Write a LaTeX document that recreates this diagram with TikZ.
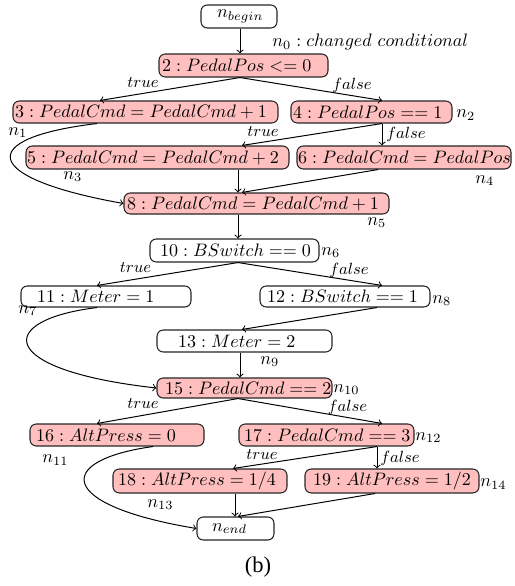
\documentclass[tikz,border=0pt]{standalone}
\usepackage{fontspec}
\newfontfamily\capfont{Liberation Serif}
\usetikzlibrary{calc}
\newdimen\upx \upx=0.555pt
\definecolor{pk}{RGB}{255,191,191}
\tikzset{
  box/.style={draw=black!85, rounded corners=3.5pt, inner xsep=0pt, inner ysep=0pt, line width=0.6pt},
  hot/.style={box, fill=pk},
  cold/.style={box, fill=white},
  edg/.style={->, line width=0.55pt},
  elab/.style={inner sep=0pt, font=\small},
  nlab/.style={inner sep=0pt, anchor=base west},
}
\newcommand{\bt}[3]{\makebox[#1\upx][l]{\hspace*{#2\upx}$#3$}}
\begin{document}
\begin{tikzpicture}[x=0.555pt, y=-0.555pt]
\path[use as bounding box] (0,0) rectangle (514,586);

% nodes
\node[cold, minimum height=12.77pt] (nb) at (239,16.5) {\bt{76}{16}{n_{begin}}};
\node[hot, minimum height=12.77pt] (n2) at (243.5,65.5) {\bt{169}{3}{2: PedalPos <= 0}};
\node[hot, minimum height=12.2pt] (n3) at (145.5,112) {\bt{265}{2}{3: PedalCmd = PedalCmd + 1}};
\node[hot, minimum height=12.2pt] (n4) at (371.5,112) {\bt{161}{2}{4: PedalPos == 1}};
\node[hot, minimum height=12.77pt] (n5) at (157.5,157.5) {\bt{263}{1}{5: PedalCmd = PedalCmd + 2}};
\node[hot, minimum height=12.77pt] (n6) at (404,157.5) {\bt{214}{1}{6: PedalCmd = PedalPos}};
\node[hot, minimum height=11.66pt] (n8) at (256.5,203.5) {\bt{265}{3}{8: PedalCmd = PedalCmd + 1}};
\node[cold, minimum height=12.77pt] (n10) at (234.5,250.5) {\bt{169}{10}{10: BSwitch == 0}};
\node[cold, minimum height=11.66pt] (n11) at (106,296.5) {\bt{170}{16}{11: Meter = 1}};
\node[cold, minimum height=11.66pt] (n12) at (345,296.5) {\bt{170}{7}{12: BSwitch == 1}};
\node[cold, minimum height=12.2pt] (n13) at (244.5,341) {\bt{175}{21}{13: Meter = 2}};
\node[hot, minimum height=11.1pt] (n15) at (244.5,388) {\bt{175}{8}{15: PedalCmd == 2}};
\node[hot, minimum height=12.2pt] (n16) at (117,435) {\bt{174}{6}{16: AltPress = 0}};
\node[hot, minimum height=12.2pt] (n17) at (326.5,435) {\bt{175}{5}{17: PedalCmd == 3}};
\node[hot, minimum height=13.3pt] (n18) at (200,481) {\bt{174}{5}{18: AltPress = 1/4}};
\node[hot, minimum height=13.3pt] (n19) at (392,481) {\bt{174}{8}{19: AltPress = 1/2}};
\node[cold, minimum height=12.77pt] (ne) at (235.5,528.5) {\bt{77}{15}{n_{end}}};

% edges
\draw[edg] ($(nb.south)+(1,0)$) -- ($(n2.north)+(-3.5,0)$);
\draw[edg] ($(n2.south)+(-3.5,0)$) -- ($(n3.north)+(-45.5,0)$);
\draw[edg] ($(n2.south)+(-3.5,0)$) -- ($(n4.north)+(10.5,0)$);
\draw[edg] ($(n4.south)+(10.5,0)$) -- ($(n5.north)+(84.5,0)$);
\draw[edg] ($(n4.south)+(10.5,0)$) -- ($(n6.north)+(-22,0)$);
\draw[edg] ($(n3.south)+(-48.5,0)$) .. controls (-25,138) and (-20,178) .. (n8.west);
\draw[edg] ($(n5.south)+(80.5,0)$) -- ($(n8.north)+(-18.5,0)$);
\draw[edg] ($(n6.south)+(-26,0)$) -- ($(n8.north)+(-14.5,0)$);
\draw[edg] ($(n8.south)+(-18.5,0)$) -- ($(n10.north)+(3.5,0)$);
\draw[edg] ($(n10.south)+(3.5,0)$) -- ($(n11.north)+(-9,0)$);
\draw[edg] ($(n10.south)+(3.5,0)$) -- ($(n12.north)+(37,0)$);
\draw[edg] ($(n11.south)+(-9,0)$) .. controls (-5,320) and (-5,370) .. (n15.west);
\draw[edg] ($(n12.south)+(32,0)$) -- ($(n13.north)+(-2.5,0)$);
\draw[edg] ($(n13.south)+(-4.5,0)$) -- ($(n15.north)+(-4.5,0)$);
\draw[edg] ($(n15.south)+(-6.5,0)$) -- ($(n16.north)+(-20,0)$);
\draw[edg] ($(n15.south)+(-6.5,0)$) -- ($(n17.north)+(55.5,0)$);
\draw[edg] ($(n16.south)+(36,0)$) .. controls (55,460) and (55,505) .. (ne.west);
\draw[edg] ($(n17.south)+(50.5,0)$) -- ($(n18.north)+(33,0)$);
\draw[edg] ($(n17.south)+(50.5,0)$) -- ($(n19.north)+(-15,0)$);
\draw[edg] ($(n18.south)+(35,0)$) -- ($(ne.north)+(-0.5,0)$);
\draw[edg] ($(n19.south)+(-17,0)$) -- ($(ne.north)+(2.5,0)$);

% edge labels
\node[elab] (t1) at (143,82.5) {$true$};
\node[elab] (f1) at (352,85) {$false$};
\node[elab] (t2) at (263,132) {$true$};
\node[elab] (f2) at (406,134) {$false$};
\node[elab] (t3) at (135.5,268) {$true$};
\node[elab] (f3) at (349,270) {$false$};
\node[elab] (t4) at (143,403.5) {$true$};
\node[elab] (f4) at (347.5,407) {$false$};
\node[elab] (t5) at (262,454.5) {$true$};
\node[elab] (f5) at (400,458) {$false$};

% n labels
\node[nlab] (l0) at (272,46.5) {$n_0: changed\ conditional$};
\node[nlab] (l1) at (8,135) {$n_1$};
\node[nlab] (l2) at (456,118) {$n_2$};
\node[nlab] (l3) at (63,179) {$n_3$};
\node[nlab] (l4) at (475,183) {$n_4$};
\node[nlab] (l5) at (367,225) {$n_5$};
\node[nlab] (l6) at (321,255) {$n_6$};
\node[nlab] (l7) at (18,313) {$n_7$};
\node[nlab] (l8) at (432,303) {$n_8$};
\node[nlab] (l9) at (260,364) {$n_9$};
\node[nlab] (l10) at (333,392) {$n_{10}$};
\node[nlab] (l11) at (42,462.5) {$n_{11}$};
\node[nlab] (l12) at (415,440) {$n_{12}$};
\node[nlab] (l13) at (147,507) {$n_{13}$};
\node[nlab] (l14) at (480,486.5) {$n_{14}$};

\node[inner sep=0pt, font=\capfont\fontsize{12.5}{15}\selectfont] (cap) at (258,567) {(b)};
\end{tikzpicture}
\end{document}
